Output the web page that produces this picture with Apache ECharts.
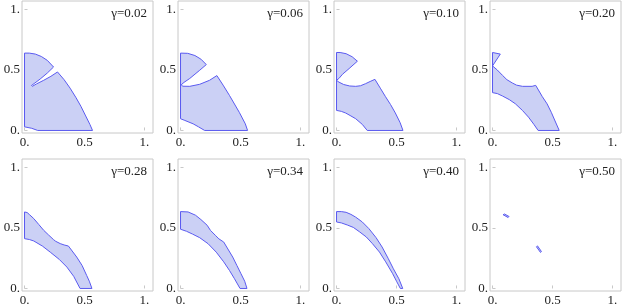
<!DOCTYPE html>
<html>
<head>
<meta charset="utf-8">
<script src="https://cdn.jsdelivr.net/npm/echarts@6/dist/echarts.min.js"></script>
<style>
html,body{margin:0;padding:0;background:#fff;}
#chart{width:624px;height:307px;}
</style>
</head>
<body>
<div id="chart"></div>
<script>
// ---- data ----
const gammas = ['0.02', '0.06', '0.10', '0.20', '0.28', '0.34', '0.40', '0.50'];
const tickValues = [0, 0.5, 1];
const tickLabels = ['0.', '0.5', '1.'];

const region002 = [[0.11,0],[0.567,0],[0.545,0.05],[0.51,0.12],[0.47,0.2],[0.43,0.27],[0.38,0.35],[0.33,0.42],[0.275,0.484],
  [0.22,0.448],[0.16,0.415],[0.1,0.385],[0.065,0.365],[0.058,0.372],
  [0.08,0.388],[0.13,0.425],[0.19,0.475],[0.242,0.525],
  [0.19,0.58],[0.14,0.612],[0.09,0.632],[0.04,0.64],[0,0.64],
  [0,0.03],[0.06,0.018]];
const region006 = [[0.201,0],[0.559,0],[0.54,0.055],[0.49,0.15],[0.408,0.29],[0.355,0.375],[0.303,0.454],
  [0.242,0.415],[0.16,0.382],[0.077,0.365],[0.02,0.366],[0.006,0.376],
  [0.022,0.393],[0.077,0.43],[0.16,0.498],[0.215,0.545],
  [0.17,0.59],[0.12,0.62],[0.06,0.638],[0,0.64],
  [0,0.097],[0.036,0.083],[0.105,0.055],[0.15,0.03]];
const region010 = [[0.256,0],[0.554,0],[0.53,0.065],[0.49,0.145],[0.45,0.215],[0.408,0.28],[0.365,0.35],[0.32,0.423],
  [0.28,0.405],[0.242,0.387],[0.2,0.37],[0.16,0.365],[0.11,0.368],[0.06,0.38],[0.02,0.4],[0,0.415],
  [0.02,0.43],[0.05,0.465],[0.105,0.512],[0.174,0.573],
  [0.13,0.61],[0.08,0.635],[0.03,0.645],[0,0.645],
  [0,0.166],[0.04,0.158],[0.077,0.144],[0.12,0.12],[0.16,0.097],[0.215,0.05]];
const region020 = [[0.38,0],[0.556,0],[0.525,0.07],[0.49,0.15],[0.455,0.22],[0.415,0.28],[0.36,0.373],
  [0.33,0.365],[0.25,0.365],[0.2,0.375],[0.165,0.393],[0.12,0.42],[0.083,0.456],[0.04,0.5],[0,0.534],
  [0.065,0.632],[0,0.645],
  [0,0.313],[0.04,0.305],[0.083,0.285],[0.14,0.255],[0.19,0.221],[0.25,0.165],[0.3,0.11],[0.345,0.05]];
const region028 = [[0.463,0],[0.562,0],[0.54,0.06],[0.518,0.108],[0.48,0.19],[0.435,0.26],[0.366,0.351],
  [0.33,0.36],[0.298,0.371],[0.26,0.39],[0.242,0.404],[0.2,0.443],[0.16,0.481],[0.12,0.528],[0.077,0.578],[0.04,0.612],[0.022,0.628],[0,0.633],
  [0,0.412],[0.04,0.405],[0.077,0.393],[0.15,0.35],[0.215,0.30],[0.29,0.24],[0.353,0.177],[0.41,0.1]];
const region034 = [[0.496,0],[0.554,0],[0.535,0.06],[0.504,0.122],[0.47,0.19],[0.435,0.26],[0.36,0.384],
  [0.32,0.41],[0.29,0.44],[0.25,0.48],[0.222,0.523],[0.17,0.57],[0.125,0.606],
  [0.063,0.633],[0,0.636],
  [0,0.49],[0.05,0.473],[0.1,0.45],[0.16,0.42],[0.23,0.37],[0.298,0.30],[0.36,0.22],[0.408,0.149],[0.45,0.08]];
const region040 = [[0.532,0],[0.552,0],[0.52,0.08],[0.474,0.163],[0.43,0.25],[0.38,0.343],[0.33,0.42],[0.27,0.495],[0.215,0.55],[0.16,0.59],[0.12,0.613],[0.08,0.63],[0.04,0.636],[0,0.636],
  [0,0.55],[0.041,0.542],[0.09,0.525],[0.14,0.505],[0.19,0.47],[0.248,0.426],[0.3,0.37],[0.358,0.301],[0.41,0.22],[0.468,0.122],[0.5,0.06]];
const region050a = [[0.088,0.61],[0.1,0.616],[0.138,0.595],[0.13,0.587]];
const region050b = [[0.366,0.345],[0.375,0.352],[0.408,0.305],[0.4,0.298]];

const panelRegions = [[region002],[region006],[region010],[region020],[region028],[region034],[region040],[region050a, region050b]];

// ---- chart ----
const FILL = '#cbd0f5';
const EDGE = '#5a5af0';
const FRAME = '#c8c8c8';
const FONT = '"Liberation Serif", "Times New Roman", serif';

const grids = [], xAxes = [], yAxes = [], series = [], graphics = [];
function fmt(v) {
  const i = tickValues.indexOf(Math.round(v * 1000) / 1000);
  return i >= 0 ? tickLabels[i] : '';
}
for (let i = 0; i < 8; i++) {
  const c = i % 4, r = Math.floor(i / 4);
  const left = 22 + 156 * c, top = 1 + 158 * r;
  grids.push({left: left, top: top, width: 131, height: 132, show: true,
    borderColor: FRAME, borderWidth: 1, backgroundColor: 'transparent'});
  const axisCommon = {
    gridIndex: i, type: 'value', min: -0.021, max: 1.071,
    splitLine: {show: false},
    axisLine: {show: false},
    axisTick: {show: true, inside: true, length: 3, lineStyle: {color: FRAME}, customValues: tickValues},
    axisLabel: {customValues: tickValues, formatter: fmt, fontFamily: FONT, fontSize: 13, color: '#222', margin: 3}
  };
  xAxes.push(Object.assign({}, axisCommon));
  yAxes.push(Object.assign({}, axisCommon, {axisLabel: Object.assign({}, axisCommon.axisLabel, {margin: 2})}));
  panelRegions[i].forEach(function (pts) {
    series.push({
      type: 'custom', xAxisIndex: i, yAxisIndex: i, data: pts,
      silent: true, animation: false,
      renderItem: function (params, api) {
        if (params.dataIndex !== 0) return;
        return {type: 'polygon', shape: {points: pts.map(function (p) { return api.coord(p); })},
          style: {fill: FILL, stroke: EDGE, lineWidth: 1}};
      }
    });
  });
  graphics.push({type: 'text', x: left + 125, y: top + 13,
    style: {text: '\u03b3=' + gammas[i], textAlign: 'right', textVerticalAlign: 'middle',
      font: '13px ' + FONT, fill: '#222'}});
}

const chart = echarts.init(document.getElementById('chart'), null, {renderer: 'canvas'});
chart.setOption({
  animation: false,
  grid: grids, xAxis: xAxes, yAxis: yAxes, series: series, graphic: graphics
});
</script>
</body>
</html>
